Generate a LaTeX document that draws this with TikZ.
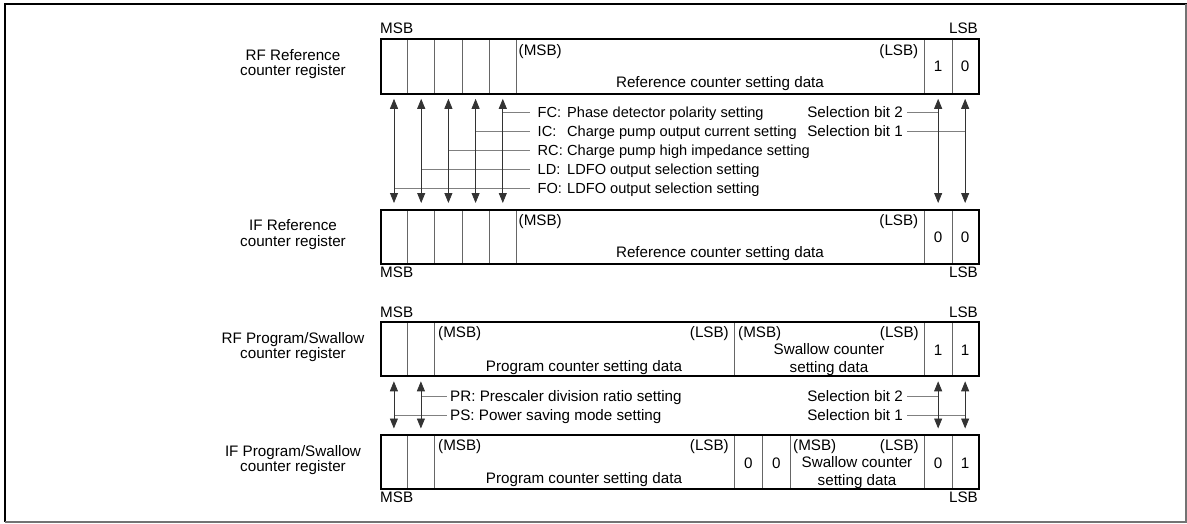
\documentclass[tikz,border=0pt]{standalone}
\usepackage{fontspec}
\setmainfont{Liberation Sans}
\usetikzlibrary{arrows.meta,calc}
\newcommand\labfont{\fontsize{15.2}{17}\selectfont}
\newcommand\bitfont{\fontsize{14.6}{17}\selectfont}
\tikzset{
  lab/.style={inner sep=0pt, text height=10.9pt, text depth=0pt, font=\labfont},
  bitlab/.style={inner sep=0pt, text height=10.5pt, text depth=0pt, font=\bitfont},
  cell/.style={draw=black!60, line width=0.8pt, inner sep=0pt, anchor=north west},
  regbox/.style={draw=black, line width=2pt, inner sep=0pt, anchor=north west, minimum width=598pt},
  dbl/.style={draw=black!80, line width=0.8pt, {Triangle[length=10pt,width=8pt]}-{Triangle[length=10pt,width=8pt]}, shorten <=5.5pt, shorten >=5.5pt},
  lbl/.style={draw=black!50, line width=0.8pt},
}
\begin{document}
\begin{tikzpicture}[x=1pt,y=-1pt]
\useasboundingbox (0,0) rectangle (1187,523);
% frame
\draw[line width=2pt] (5,522) -- (5,4) -- (1187,4);
\draw[black!55, line width=1.8pt] (5,522) -- (1186,522) -- (1186,4);

% ---------- RF reference register ----------
\begin{scope}[every node/.append style={minimum height=54.5pt}]
\node[cell, minimum width=27.2pt] (rfref-c1) at (380,38) {};
\node[cell, minimum width=27.2pt] (rfref-c2) at (407.2,38) {};
\node[cell, minimum width=27.2pt] (rfref-c3) at (434.4,38) {};
\node[cell, minimum width=27.2pt] (rfref-c4) at (461.6,38) {};
\node[cell, minimum width=27.2pt] (rfref-c5) at (488.8,38) {};
\node[cell, minimum width=408pt] (rfref-d) at (516,38) {};
\node[cell, minimum width=27.5pt] (rfref-s2) at (924,38) {};
\node[cell, minimum width=26.5pt] (rfref-s1) at (951.5,38) {};
\node[regbox] (rfref) at (380,38) {};
% IF reference
\node[cell, minimum width=27.2pt] (ifref-c1) at (380,208.5) {};
\node[cell, minimum width=27.2pt] (ifref-c2) at (407.2,208.5) {};
\node[cell, minimum width=27.2pt] (ifref-c3) at (434.4,208.5) {};
\node[cell, minimum width=27.2pt] (ifref-c4) at (461.6,208.5) {};
\node[cell, minimum width=27.2pt] (ifref-c5) at (488.8,208.5) {};
\node[cell, minimum width=408pt] (ifref-d) at (516,208.5) {};
\node[cell, minimum width=27.5pt] (ifref-s2) at (924,208.5) {};
\node[cell, minimum width=26.5pt] (ifref-s1) at (951.5,208.5) {};
\node[regbox] (ifref) at (380,208.5) {};
\end{scope}

% ---------- Program / swallow registers ----------
\begin{scope}[every node/.append style={minimum height=54pt}]
\node[cell, minimum width=27pt] (rfps-c1) at (380,321) {};
\node[cell, minimum width=27pt] (rfps-c2) at (407,321) {};
\node[cell, minimum width=300pt] (rfps-p) at (434,321) {};
\node[cell, minimum width=190pt] (rfps-w) at (734,321) {};
\node[cell, minimum width=27.5pt] (rfps-s2) at (924,321) {};
\node[cell, minimum width=26.5pt] (rfps-s1) at (951.5,321) {};
\node[regbox] (rfps) at (380,321) {};
\node[cell, minimum width=27pt] (ifps-c1) at (380,434) {};
\node[cell, minimum width=27pt] (ifps-c2) at (407,434) {};
\node[cell, minimum width=300pt] (ifps-p) at (434,434) {};
\node[cell, minimum width=28pt] (ifps-z1) at (734,434) {};
\node[cell, minimum width=28pt] (ifps-z2) at (762,434) {};
\node[cell, minimum width=134pt] (ifps-w) at (790,434) {};
\node[cell, minimum width=27.5pt] (ifps-s2) at (924,434) {};
\node[cell, minimum width=26.5pt] (ifps-s1) at (951.5,434) {};
\node[regbox] (ifps) at (380,434) {};
\end{scope}

% ---------- register names ----------
\node[lab] (rfrefN1) at (293,55) {RF Reference};
\node[lab] (rfrefN2) at (293,70.5) {counter register};
\node[lab] (ifrefN1) at (293,225.5) {IF Reference};
\node[lab] (ifrefN2) at (293,241) {counter register};
\node[lab] (rfpsN1) at (293,338) {RF Program/Swallow};
\node[lab] (rfpsN2) at (293,353.5) {counter register};
\node[lab] (ifpsN1) at (293,451) {IF Program/Swallow};
\node[lab] (ifpsN2) at (293,466.5) {counter register};

% ---------- MSB / LSB outside ----------
\node[lab, anchor=west] (m1) at (380,28.5) {MSB};
\node[lab, anchor=east] (l1) at (978,28.5) {LSB};
\node[lab, anchor=west] (m2) at (380,272.5) {MSB};
\node[lab, anchor=east] (l2) at (978,272.5) {LSB};
\node[lab, anchor=west] (m3) at (380,312) {MSB};
\node[lab, anchor=east] (l3) at (978,312) {LSB};
\node[lab, anchor=west] (m4) at (380,497.5) {MSB};
\node[lab, anchor=east] (l4) at (978,497.5) {LSB};

% ---------- texts inside reference registers ----------
\node[lab, anchor=west] (rfrefMi) at (518.5,50) {(MSB)};
\node[lab, anchor=east] (rfrefLi) at (918.5,50) {(LSB)};
\node[lab] (rfrefD) at (720,82) {Reference counter setting data};
\node[lab] (rfref2) at (rfref-s2) {1};
\node[lab] (rfref1) at (rfref-s1) {0};
\node[lab, anchor=west] (ifrefMi) at (518.5,220.5) {(MSB)};
\node[lab, anchor=east] (ifrefLi) at (918.5,220.5) {(LSB)};
\node[lab] (ifrefD) at (720,252.5) {Reference counter setting data};
\node[lab] (ifref2) at ($(ifref-s2)+(0,1)$) {0};
\node[lab] (ifref1) at ($(ifref-s1)+(0,1)$) {0};

% ---------- texts inside program/swallow registers ----------
\node[lab, anchor=west] (rfpsMi) at (438,332) {(MSB)};
\node[lab, anchor=east] (rfpsLi) at (729,332) {(LSB)};
\node[lab] (rfpsD) at (584,366.5) {Program counter setting data};
\node[lab, anchor=west] (rfpsWM) at (738,332) {(MSB)};
\node[lab, anchor=east] (rfpsWL) at (919,332) {(LSB)};
\node[lab] (rfpsW1) at (829,349.5) {Swallow counter};
\node[lab] (rfpsW2) at (829,367) {setting data};
\node[lab] (rfps2) at ($(rfps-s2)+(0,2)$) {1};
\node[lab] (rfps1) at ($(rfps-s1)+(0,2)$) {1};

\node[lab, anchor=west] (ifpsMi) at (438,445.5) {(MSB)};
\node[lab, anchor=east] (ifpsLi) at (729,445.5) {(LSB)};
\node[lab] (ifpsD) at (584,478) {Program counter setting data};
\node[lab] (ifpsZ1) at ($(ifps-z1)+(0,2)$) {0};
\node[lab] (ifpsZ2) at ($(ifps-z2)+(0,2)$) {0};
\node[lab, anchor=west] (ifpsWM) at (793,445.5) {(MSB)};
\node[lab, anchor=east] (ifpsWL) at (919,445.5) {(LSB)};
\node[lab] (ifpsW1) at (857,462.5) {Swallow counter};
\node[lab] (ifpsW2) at (857,480) {setting data};
\node[lab] (ifps2) at ($(ifps-s2)+(0,2)$) {0};
\node[lab] (ifps1) at ($(ifps-s1)+(0,2)$) {1};

% ---------- bit labels, reference ----------
\node[bitlab, anchor=west] (fc) at (537.5,112.5) {\makebox[29.5pt][l]{FC:}Phase detector polarity setting};
\node[bitlab, anchor=west] (ic) at (537.5,131.5) {\makebox[29.5pt][l]{IC:}Charge pump output current setting};
\node[bitlab, anchor=west] (rc) at (537.5,150.5) {\makebox[29.5pt][l]{RC:}Charge pump high impedance setting};
\node[bitlab, anchor=west] (ld) at (537.5,169.5) {\makebox[29.5pt][l]{LD:}LDFO output selection setting};
\node[bitlab, anchor=west] (fo) at (537.5,188.5) {\makebox[29.5pt][l]{FO:}LDFO output selection setting};
\node[lab, anchor=east] (sbA2) at (903,112.5) {Selection bit 2};
\node[lab, anchor=east] (sbA1) at (903,131.5) {Selection bit 1};

\draw[lbl] (rfref-c5.south |- fc.west) -- ([xshift=-7.5pt]fc.west);
\draw[lbl] (rfref-c4.south |- ic.west) -- ([xshift=-7.5pt]ic.west);
\draw[lbl] (rfref-c3.south |- rc.west) -- ([xshift=-7.5pt]rc.west);
\draw[lbl] (rfref-c2.south |- ld.west) -- ([xshift=-7.5pt]ld.west);
\draw[lbl] (rfref-c1.south |- fo.west) -- ([xshift=-7.5pt]fo.west);
\draw[lbl] ([xshift=4pt]sbA2.east) -- (rfref-s2.south |- sbA2.east);
\draw[lbl] ([xshift=4pt]sbA1.east) -- (rfref-s1.south |- sbA1.east);

\foreach \c in {c1,c2,c3,c4,c5,s2,s1}
  \draw[dbl] (rfref-\c.south) -- (ifref-\c.north);

% ---------- bit labels, program/swallow ----------
\node[lab, anchor=west] (pr) at (450,396.5) {PR: Prescaler division ratio setting};
\node[lab, anchor=west] (ps) at (450,415) {PS: Power saving mode setting};
\node[lab, anchor=east] (sbB2) at (903,396.5) {Selection bit 2};
\node[lab, anchor=east] (sbB1) at (903,415) {Selection bit 1};

\draw[lbl] (rfps-c2.south |- pr.west) -- ([xshift=-3.5pt]pr.west);
\draw[lbl] (rfps-c1.south |- ps.west) -- ([xshift=-3.5pt]ps.west);
\draw[lbl] ([xshift=4pt]sbB2.east) -- (rfps-s2.south |- sbB2.east);
\draw[lbl] ([xshift=4pt]sbB1.east) -- (rfps-s1.south |- sbB1.east);

\foreach \c in {c1,c2,s2,s1}
  \draw[dbl] (rfps-\c.south) -- (ifps-\c.north);
\end{tikzpicture}
\end{document}
